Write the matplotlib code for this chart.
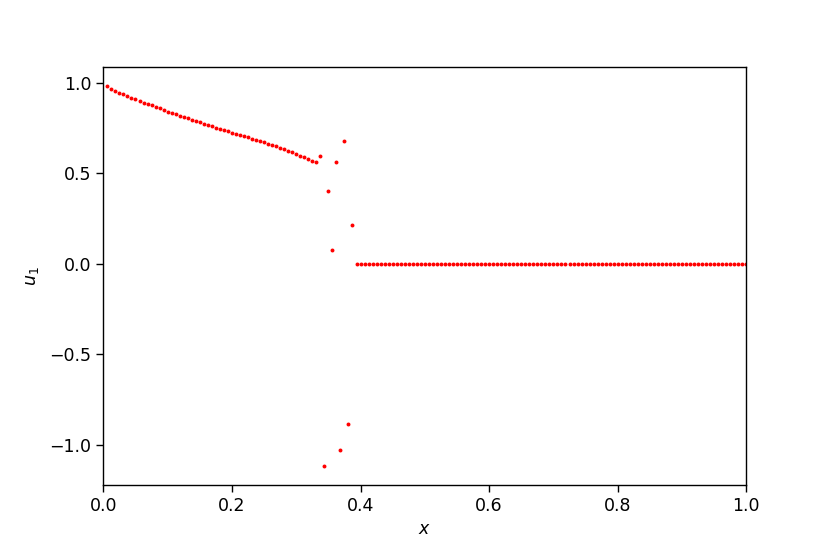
import numpy as np
import matplotlib
matplotlib.use("Agg")
import matplotlib.pyplot as plt

n_cells = 160

# smooth part, i = 1..52
u_smooth = [0.985, 0.968, 0.955, 0.946, 0.937, 0.928, 0.918, 0.911, 0.902, 0.892,
            0.885, 0.876, 0.870, 0.861, 0.848, 0.841, 0.834, 0.826, 0.819, 0.812,
            0.804, 0.797, 0.790, 0.782, 0.776, 0.769, 0.762, 0.753, 0.745, 0.738,
            0.732, 0.725, 0.719, 0.712, 0.705, 0.699, 0.692, 0.685, 0.679, 0.671,
            0.663, 0.657, 0.649, 0.642, 0.633, 0.626, 0.616, 0.607, 0.598, 0.589,
            0.578, 0.567]
# oscillating part, i = 53..62
u_osc = [0.565, 0.594, -1.118, 0.405, 0.075, 0.561, -1.029, 0.677, -0.886, 0.213]
# flat part, i = 63..160
u_tail = [0.0] * 98

u1 = np.array(u_smooth + u_osc + u_tail)
x = np.arange(1, n_cells + 1) / n_cells

plt.rcParams['font.family'] = ['DejaVu Sans']
plt.rcParams['font.size'] = 12.5

fig = plt.figure(figsize=(8.30, 5.54), dpi=100)
ax = fig.add_axes([0.1245, 0.1245, 0.7747, 0.7551])
ax.scatter(x, u1, s=8, c='red', linewidths=0)
ax.set_xlim(0, 1)
ax.set_xlabel('$x$')
ax.set_ylabel('$u_1$', labelpad=6)
ax.tick_params(length=5, width=1)
for sp in ax.spines.values():
    sp.set_linewidth(1.0)

fig.savefig('out.png', dpi=100)
